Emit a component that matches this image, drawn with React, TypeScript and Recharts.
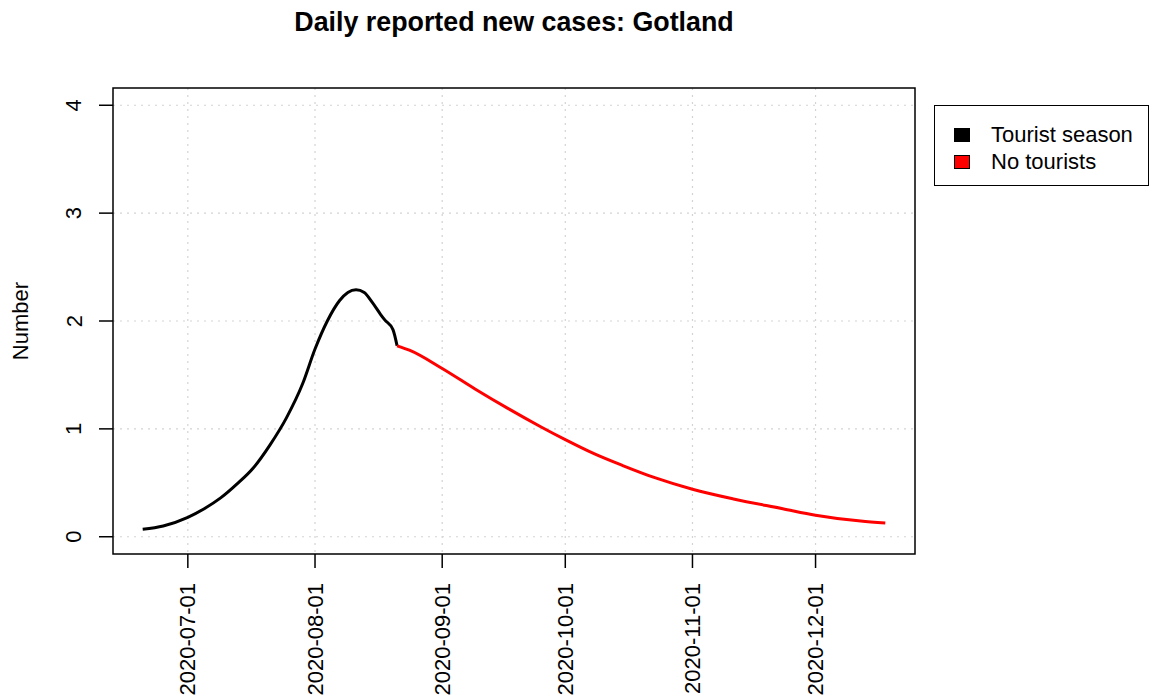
import React from 'react';
import { LineChart, Line, XAxis, YAxis, CartesianGrid, Legend, ReferenceArea, Customized } from 'recharts';

const FONT = '"Liberation Sans", Arial, Helvetica, sans-serif';

// tourist season (black) and after (red), daily reported new cases
const seasonDates = [
  '2020-06-20', '2020-06-25', '2020-07-01', '2020-07-05', '2020-07-09', '2020-07-13',
  '2020-07-17', '2020-07-21', '2020-07-25', '2020-07-29', '2020-08-01', '2020-08-04',
  '2020-08-07', '2020-08-09', '2020-08-11', '2020-08-13', '2020-08-15', '2020-08-17',
  '2020-08-18', '2020-08-20', '2020-08-21',
];
const seasonValues = [
  0.07, 0.1, 0.18, 0.26, 0.36, 0.49,
  0.64, 0.85, 1.1, 1.42, 1.74, 2.0,
  2.19, 2.265, 2.29, 2.265, 2.17, 2.06,
  2.01, 1.92, 1.77,
];

const offDates = [
  '2020-08-21', '2020-08-24', '2020-09-01', '2020-09-09', '2020-09-17', '2020-09-25',
  '2020-10-01', '2020-10-08', '2020-10-15', '2020-10-23', '2020-11-01', '2020-11-11',
  '2020-11-23', '2020-12-01', '2020-12-12', '2020-12-18',
];
const offValues = [
  1.77, 1.73, 1.56, 1.37, 1.19, 1.02,
  0.9, 0.77, 0.66, 0.545, 0.44, 0.35,
  0.26, 0.2, 0.145, 0.127,
];

const seriesNames = ['Tourist season', 'No tourists'];
const seriesColors = ['#000000', '#ff0000'];

const monthTicks = ['2020-07-01', '2020-08-01', '2020-09-01', '2020-10-01', '2020-11-01', '2020-12-01'];
const yTicks = [0, 1, 2, 3, 4];

const toTime = (s: string) => {
  const [y, m, d] = s.split('-').map(Number);
  return Date.UTC(y, m - 1, d);
};
const fmtDate = (t: number) => new Date(t).toISOString().slice(0, 10);

const seasonData = seasonDates.map((d, i) => ({ t: toTime(d), value: seasonValues[i] }));
const offData = offDates.map((d, i) => ({ t: toTime(d), value: offValues[i] }));

// R-style 4% padding around the data range
const tMin = toTime(seasonDates[0]);
const tMax = toTime(offDates[offDates.length - 1]);
const tPad = (tMax - tMin) * 0.04;
const xDomain: [number, number] = [tMin - tPad, tMax + tPad];
const yDomain: [number, number] = [-0.16, 4.16];

const XTick = (props: any) => {
  const { x, payload } = props;
  const y = 583;
  return (
    <g>
      <line x1={x} x2={x} y1={554} y2={568} stroke="#000" strokeWidth={1.5} />
      <text
        x={x}
        y={y}
        transform={`rotate(-90, ${x}, ${y})`}
        textAnchor="end"
        dominantBaseline="central"
        fontFamily={FONT}
        fontSize={22}
        fill="#000"
      >
        {fmtDate(payload.value)}
      </text>
    </g>
  );
};

const YTick = (props: any) => {
  const { y, payload } = props;
  const x = 74;
  return (
    <g>
      <line x1={99} x2={113} y1={y} y2={y} stroke="#000" strokeWidth={1.5} />
      <text
        x={x}
        y={y}
        transform={`rotate(-90, ${x}, ${y})`}
        textAnchor="middle"
        dominantBaseline="central"
        fontFamily={FONT}
        fontSize={22}
        fill="#000"
      >
        {payload.value}
      </text>
    </g>
  );
};

const Labels = () => (
  <g fontFamily={FONT} fill="#000">
    <text x={514} y={31} textAnchor="middle" fontSize={26.8} fontWeight="bold">
      Daily reported new cases: Gotland
    </text>
    <text
      x={20}
      y={321}
      transform="rotate(-90, 20, 321)"
      textAnchor="middle"
      dominantBaseline="central"
      fontSize={22}
    >
      Number
    </text>
  </g>
);

const LegendBox = () => (
  <div
    style={{
      boxSizing: 'border-box',
      width: 215,
      height: 81,
      border: '1.5px solid #000',
      background: '#fff',
      padding: '15px 0 0 19px',
      fontFamily: FONT,
      fontSize: 22,
      color: '#000',
    }}
  >
    {seriesNames.map((name, i) => (
      <div key={name} style={{ display: 'flex', alignItems: 'center', height: 27 }}>
        <span
          style={{
            display: 'inline-block',
            boxSizing: 'border-box',
            width: 16,
            height: 14,
            background: seriesColors[i],
            border: '1px solid #000',
            marginRight: 21,
          }}
        />
        <span>{name}</span>
      </div>
    ))}
  </div>
);

const App = () => {
  return (
    <div style={{ position: 'absolute', left: 0, top: 0, width: 1152, height: 700, background: '#fff' }}>
      <LineChart width={1152} height={700} margin={{ top: 88, right: 237, bottom: 0, left: 0 }}>
        <CartesianGrid
          stroke="#d3d3d3"
          strokeDasharray="2 5"
          strokeWidth={1.2}
          horizontalValues={yTicks}
          verticalValues={monthTicks.map(toTime)}
        />
        <XAxis
          type="number"
          dataKey="t"
          domain={xDomain}
          ticks={monthTicks.map(toTime)}
          allowDataOverflow
          height={146}
          axisLine={false}
          tickLine={false}
          tick={<XTick />}
          interval={0}
        />
        <YAxis
          type="number"
          dataKey="value"
          domain={yDomain}
          ticks={yTicks}
          allowDataOverflow
          width={113}
          axisLine={false}
          tickLine={false}
          tick={<YTick />}
          interval={0}
        />
        <ReferenceArea
          x1={xDomain[0]}
          x2={xDomain[1]}
          y1={yDomain[0]}
          y2={yDomain[1]}
          fill="none"
          stroke="#000"
          strokeWidth={1.5}
          ifOverflow="visible"
        />
        <Line
          data={seasonData}
          dataKey="value"
          name={seriesNames[0]}
          type="monotone"
          stroke={seriesColors[0]}
          strokeWidth={3}
          dot={false}
          isAnimationActive={false}
        />
        <Line
          data={offData}
          dataKey="value"
          name={seriesNames[1]}
          type="monotone"
          stroke={seriesColors[1]}
          strokeWidth={3}
          dot={false}
          isAnimationActive={false}
        />
        <Legend
          layout="vertical"
          align="center"
          verticalAlign="middle"
          wrapperStyle={{ left: 934, top: 105, width: 215, height: 81 }}
          content={<LegendBox />}
        />
        <Customized component={Labels} />
      </LineChart>
    </div>
  );
};

export default App;
